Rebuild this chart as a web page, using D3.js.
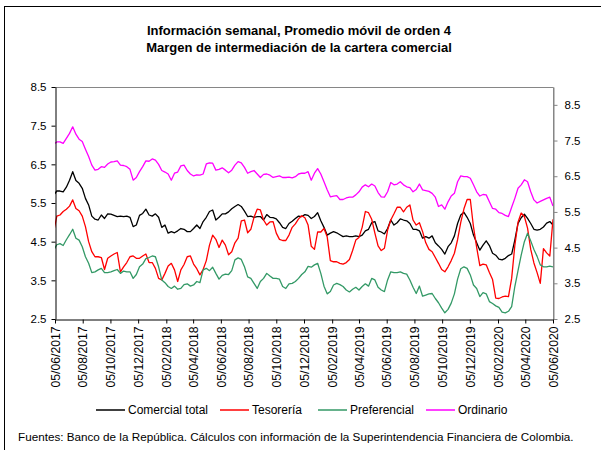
<!DOCTYPE html>
<html>
<head>
<meta charset="utf-8">
<script src="https://cdnjs.cloudflare.com/ajax/libs/d3/7.8.5/d3.min.js"></script>
<style>
  body { margin: 0; background: #fff; }
  svg { display: block; font-family: "Liberation Sans", Arial, sans-serif; }
</style>
</head>
<body>
<svg width="601" height="450"></svg>
<script>
// x axis labels, every two months
var tickLabels = ["05/06/2017", "05/08/2017", "05/10/2017", "05/12/2017", "05/02/2018", "05/04/2018",
  "05/06/2018", "05/08/2018", "05/10/2018", "05/12/2018", "05/02/2019", "05/04/2019",
  "05/06/2019", "05/08/2019", "05/10/2019", "05/12/2019", "05/02/2020", "05/04/2020", "05/06/2020"];

var yTicks = [2.5, 3.5, 4.5, 5.5, 6.5, 7.5, 8.5];

// weekly values (Fridays, 02/06/2017 - 05/06/2020)
var comercialTotal = [5.70,
  5.81, 5.81, 5.79, 5.91, 6.09, 6.31, 6.08, 6.01, 5.88, 5.62,
  5.45, 5.16, 5.08, 5.06, 5.19, 5.10, 5.22, 5.21, 5.18, 5.15,
  5.16, 5.15, 5.16, 5.13, 4.89, 4.93, 5.18, 5.23, 5.34, 5.19,
  5.16, 5.22, 5.13, 4.87, 4.93, 4.72, 4.76, 4.73, 4.78, 4.84,
  4.82, 4.76, 4.76, 4.84, 4.93, 4.84, 5.02, 5.13, 5.28, 5.32,
  5.06, 5.13, 5.22, 5.22, 5.27, 5.35, 5.41, 5.46, 5.41, 5.29,
  5.15, 5.16, 5.13, 5.15, 5.15, 5.06, 5.20, 5.13, 5.12, 5.09,
  4.99, 4.87, 4.84, 4.97, 5.03, 5.10, 5.16, 5.15, 5.20, 5.18,
  5.10, 5.15, 5.25, 5.04, 4.87, 4.67, 4.72, 4.76, 4.73, 4.68,
  4.63, 4.65, 4.63, 4.63, 4.65, 4.63, 4.67, 4.78, 4.82, 4.99,
  5.02, 4.78, 4.75, 4.70, 4.84, 5.06, 4.93, 4.99, 5.09, 5.06,
  5.04, 4.97, 4.82, 4.82, 4.78, 4.59, 4.63, 4.59, 4.65, 4.47,
  4.39, 4.30, 4.18, 4.37, 4.47,
  4.65, 4.97, 5.19, 5.26, 5.13, 4.97, 4.67, 4.47, 4.28, 4.41,
  4.52, 4.40, 4.20, 4.15, 4.05, 4.03, 4.07, 4.14, 4.18, 4.54,
  4.97, 5.12, 5.21, 5.10, 4.97, 4.82, 4.80, 4.82, 4.88, 4.98,
  5.02, 4.93];

var tesoreria = [4.75,
  5.16, 5.19, 5.28, 5.34, 5.42, 5.58, 5.36, 5.30, 5.16, 4.89,
  4.50, 4.24, 4.11, 4.11, 4.09, 3.78, 4.07, 4.13, 4.18, 4.22,
  3.72, 3.85, 3.96, 4.11, 4.13, 4.07, 4.07, 4.13, 4.18, 3.96,
  3.96, 3.81, 3.55, 3.51, 3.68, 3.87, 3.94, 3.77, 3.47, 3.77,
  3.91, 4.11, 4.13, 3.92, 3.80, 3.64, 3.78, 4.01, 4.41, 4.67,
  4.56, 4.35, 4.54, 4.41, 4.16, 4.24, 4.47, 4.59, 5.04, 5.06,
  4.73, 4.82, 5.13, 5.34, 5.32, 5.06, 4.93, 5.01, 5.02, 4.72,
  4.56, 4.53, 4.53, 4.67, 4.87, 4.96, 5.09, 5.17, 5.12, 4.93,
  4.38, 4.30, 4.75, 4.75, 4.84, 4.63, 4.01, 3.98, 3.98, 3.94,
  3.92, 3.96, 4.04, 4.27, 4.54, 4.61, 4.87, 5.28, 5.25, 5.08,
  4.72, 4.39, 4.27, 4.33, 4.80, 5.06, 5.22, 5.39, 5.39, 5.27,
  5.39, 5.45, 5.06, 4.93, 4.99, 4.76, 4.47, 4.30, 4.24, 4.09,
  3.94, 3.78, 3.72, 3.85, 4.01,
  4.20, 4.55, 5.00, 5.35, 5.59, 5.59, 4.88, 4.35, 3.88, 3.92,
  3.90, 3.70, 3.52, 3.04, 3.03, 3.07, 3.09, 3.08, 3.55, 4.40,
  5.00, 5.24, 5.15, 4.85, 4.30, 3.95, 3.70, 3.42, 4.32, 4.21,
  4.13, 5.08];

var preferencial = [4.28,
  4.42, 4.45, 4.40, 4.55, 4.68, 4.82, 4.59, 4.54, 4.37, 4.11,
  3.94, 3.70, 3.72, 3.77, 3.81, 3.70, 3.70, 3.72, 3.75, 3.78,
  3.68, 3.74, 3.72, 3.72, 3.55, 3.65, 3.85, 3.92, 4.06, 4.09,
  4.13, 4.11, 3.85, 3.51, 3.44, 3.34, 3.29, 3.35, 3.27, 3.29,
  3.39, 3.41, 3.35, 3.38, 3.47, 3.44, 3.77, 3.81, 3.75, 3.84,
  3.68, 3.53, 3.63, 3.66, 3.65, 3.75, 4.03, 4.08, 4.04, 3.85,
  3.59, 3.55, 3.42, 3.29, 3.47, 3.55, 3.68, 3.61, 3.55, 3.55,
  3.53, 3.34, 3.29, 3.41, 3.42, 3.47, 3.55, 3.65, 3.72, 3.86,
  3.84, 3.90, 3.94, 3.68, 3.35, 3.15, 3.21, 3.38, 3.42, 3.39,
  3.34, 3.25, 3.20, 3.27, 3.32, 3.25, 3.34, 3.41, 3.35, 3.55,
  3.51, 3.32, 3.25, 3.21, 3.51, 3.72, 3.70, 3.70, 3.72, 3.68,
  3.66, 3.51, 3.32, 3.16, 3.35, 3.09, 3.12, 3.15, 3.16, 3.03,
  2.92, 2.78, 2.66, 2.75, 2.91,
  3.15, 3.53, 3.80, 3.85, 3.81, 3.64, 3.38, 3.29, 3.08, 3.18,
  3.15, 2.95, 2.90, 2.84, 2.80, 2.68, 2.66, 2.70, 2.82, 3.34,
  3.75, 4.15, 4.50, 4.72, 4.52, 4.30, 4.12, 3.90, 3.85, 3.85,
  3.87, 3.85];

var ordinario = [7.02,
  7.08, 7.08, 7.04, 7.17, 7.30, 7.47, 7.28, 7.15, 7.09, 6.89,
  6.70, 6.48, 6.35, 6.37, 6.44, 6.42, 6.51, 6.56, 6.57, 6.59,
  6.48, 6.47, 6.44, 6.37, 6.09, 6.16, 6.31, 6.44, 6.59, 6.58,
  6.64, 6.61, 6.50, 6.34, 6.30, 6.25, 6.09, 6.27, 6.30, 6.46,
  6.48, 6.34, 6.25, 6.20, 6.23, 6.22, 6.25, 6.51, 6.54, 6.53,
  6.35, 6.37, 6.41, 6.35, 6.28, 6.35, 6.48, 6.57, 6.54, 6.42,
  6.27, 6.31, 6.34, 6.25, 6.16, 6.24, 6.25, 6.22, 6.16, 6.18,
  6.20, 6.16, 6.16, 6.17, 6.15, 6.18, 6.25, 6.27, 6.27, 6.31,
  6.09, 6.27, 6.39, 6.25, 6.05, 5.84, 5.66, 5.68, 5.69, 5.59,
  5.59, 5.63, 5.65, 5.65, 5.71, 5.79, 5.91, 5.97, 5.92, 5.99,
  5.94, 5.77, 5.66, 5.65, 5.79, 6.03, 5.97, 5.99, 6.05, 5.97,
  5.92, 5.90, 5.79, 5.85, 5.99, 5.84, 5.82, 5.80, 5.75, 5.65,
  5.41, 5.45, 5.34, 5.53, 5.68,
  5.75, 6.05, 6.20, 6.18, 6.18, 6.14, 5.97, 5.79, 5.68, 5.72,
  5.71, 5.53, 5.36, 5.34, 5.25, 5.23, 5.18, 5.15, 5.39, 5.62,
  5.88, 5.97, 6.10, 6.05, 5.79, 5.58, 5.50, 5.54, 5.58, 5.62,
  5.65, 5.42];

var seriesNames = ["Comercial total", "Tesorería", "Preferencial", "Ordinario"];
var seriesColors = ["#000000", "#ff0000", "#339966", "#ff00ff"];

var svg = d3.select("svg"),
    width = +svg.attr("width"),
    height = +svg.attr("height");

var plot = {left: 55, right: 553, top: 87, bottom: 319};

var parseDate = d3.timeParse("%d/%m/%Y");
var dates = d3.timeFriday.range(new Date(2017, 5, 2), new Date(2020, 5, 6));

var x = d3.scaleTime()
    .domain([parseDate(tickLabels[0]), parseDate(tickLabels[tickLabels.length - 1])])
    .range([plot.left, plot.right]);

var y = d3.scaleLinear().domain([2.5, 8.5]).range([plot.bottom, plot.top]);
// secondary axis on the right runs to 9
var y2 = d3.scaleLinear().domain([2.5, 9]).range([plot.bottom, plot.top]);

svg.append("rect")
    .attr("width", width).attr("height", height)
    .attr("fill", "#fff");

// outer frame (only left and top edges are inside the picture)
svg.append("rect")
    .attr("x", 4.5).attr("y", 6.5)
    .attr("width", 700).attr("height", 600)
    .attr("fill", "none")
    .attr("stroke", "#000");

svg.append("text")
    .attr("x", 299).attr("y", 35)
    .attr("text-anchor", "middle")
    .attr("font-size", 13).attr("font-weight", "bold")
    .text("Información semanal, Promedio móvil de orden 4");

svg.append("text")
    .attr("x", 299).attr("y", 52)
    .attr("text-anchor", "middle")
    .attr("font-size", 13).attr("font-weight", "bold")
    .text("Margen de intermediación de la cartera comercial");

// gray plot border (top and right)
svg.append("path")
    .attr("d", "M" + plot.left + "," + (plot.top + 0.5) + "H" + (plot.right + 0.5) + "V" + plot.bottom)
    .attr("fill", "none")
    .attr("stroke", "#868686");

svg.append("clipPath").attr("id", "plotclip")
  .append("rect")
    .attr("x", plot.left).attr("y", plot.top)
    .attr("width", plot.right - plot.left).attr("height", plot.bottom - plot.top);

var allSeries = [comercialTotal, tesoreria, preferencial, ordinario];

var line = d3.line()
    .x(function(d, i) { return x(dates[i]); })
    .y(function(d) { return y(d); });

svg.append("g")
    .attr("clip-path", "url(#plotclip)")
  .selectAll("path")
  .data(allSeries)
  .enter().append("path")
    .attr("d", line)
    .attr("fill", "none")
    .attr("stroke", function(d, i) { return seriesColors[i]; })
    .attr("stroke-width", 1.3)
    .attr("stroke-linejoin", "round");

var fmt = d3.format(".1f");

var leftAxis = svg.append("g")
    .attr("transform", "translate(" + (plot.left + 0.5) + ",0)")
    .call(d3.axisLeft(y).tickValues(yTicks).tickFormat(fmt).tickSize(4).tickSizeOuter(0).tickPadding(5));

var rightAxis = svg.append("g")
    .attr("transform", "translate(" + (plot.right + 0.5) + ",0)")
    .call(d3.axisRight(y2).tickValues(yTicks).tickFormat(fmt).tickSize(4).tickSizeOuter(0).tickPadding(7));
rightAxis.selectAll("line, path").attr("stroke", "#868686");

var bottomAxis = svg.append("g")
    .attr("transform", "translate(0," + (plot.bottom + 0.5) + ")")
    .call(d3.axisBottom(x).tickValues(tickLabels.map(parseDate))
      .tickFormat(d3.timeFormat("%d/%m/%Y")).tickSize(4).tickSizeOuter(0));

bottomAxis.selectAll("text")
    .attr("transform", "rotate(-90)")
    .attr("text-anchor", "end")
    .attr("x", -7)
    .attr("y", 0)
    .attr("dy", "0.35em");

[leftAxis, rightAxis].forEach(function(g) {
  g.attr("font-family", null).attr("font-size", 11.5);
  g.selectAll("text").attr("fill", "#000");
});
bottomAxis.attr("font-family", null).attr("font-size", 12.2);
bottomAxis.selectAll("text").attr("fill", "#000");

// legend
var legendX = [96, 220, 318, 426];
var legend = svg.append("g").selectAll("g")
  .data(seriesNames)
  .enter().append("g")
    .attr("transform", function(d, i) { return "translate(" + legendX[i] + ",410)"; });

legend.append("line")
    .attr("x1", 0).attr("x2", 29)
    .attr("stroke", function(d, i) { return seriesColors[i]; })
    .attr("stroke-width", 1.5);

legend.append("text")
    .attr("x", 32).attr("y", 4)
    .attr("font-size", 12)
    .text(function(d) { return d; });

svg.append("text")
    .attr("x", 18).attr("y", 441)
    .attr("font-size", 11.7)
    .text("Fuentes: Banco de la República. Cálculos con información de la Superintendencia Financiera de Colombia.");
</script>
</body>
</html>
